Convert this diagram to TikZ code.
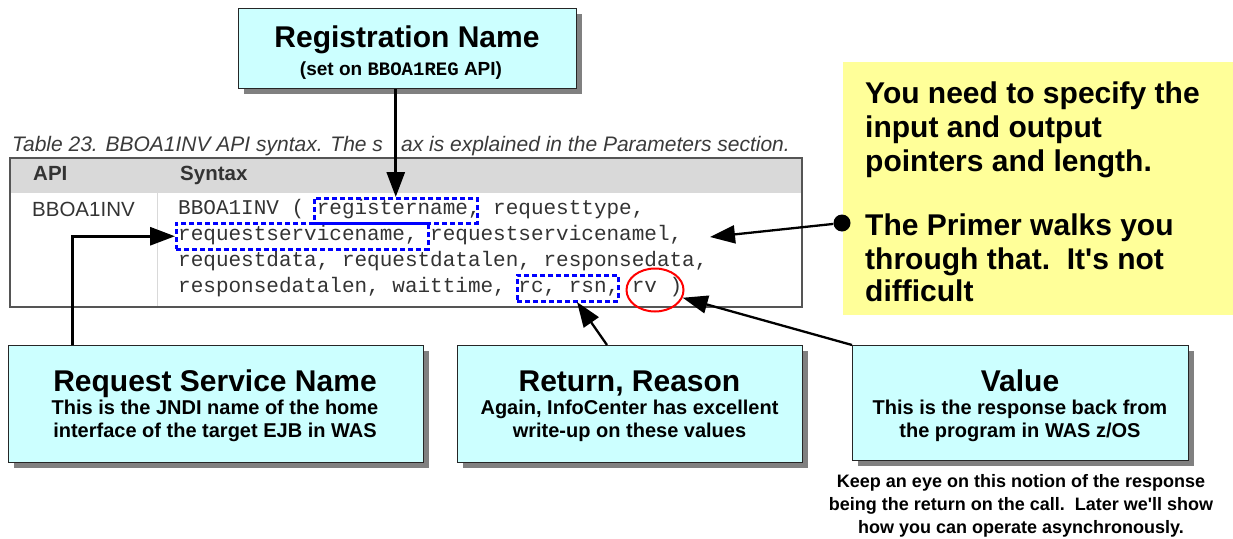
\documentclass[tikz,border=0pt]{standalone}
\usepackage{fontspec}
\setmainfont{Liberation Sans}[Ligatures=TeXOff]
\newfontfamily\codefont{Liberation Mono}
\usetikzlibrary{arrows.meta,shapes.geometric,shadows}
\definecolor{calloutfill}{HTML}{CCFFFF}
\definecolor{notefill}{HTML}{FFFF99}
\definecolor{headerfill}{HTML}{D9D9D9}
\definecolor{tableline}{HTML}{555555}
\definecolor{captiongray}{HTML}{3A3A3A}
\definecolor{codegray}{HTML}{333333}
\definecolor{hlblue}{HTML}{0000FF}
\definecolor{rvred}{HTML}{FF0000}
\begin{document}
\begin{tikzpicture}[x=1pt,y=-1pt,
  callout/.style={draw=black!85, line width=1.3pt, fill=calloutfill, inner sep=0pt,
    anchor=north west,
    drop shadow={shadow xshift=5pt, shadow yshift=-5pt, fill=black!50, opacity=1}},
  titletext/.style={anchor=base, inner sep=0pt, font=\bfseries\fontsize{30}{34}\selectfont},
  subtext/.style={anchor=base, inner sep=0pt, font=\bfseries\fontsize{20}{24}\selectfont},
  notetext/.style={anchor=base west, inner sep=0pt, font=\bfseries\fontsize{30}{34}\selectfont},
  smallnote/.style={anchor=base, inner sep=0pt, font=\bfseries\fontsize{18}{22}\selectfont},
  captiontext/.style={inner sep=0pt, text=captiongray,
    font=\itshape\fontsize{21}{24}\selectfont},
  codeline/.style={anchor=base west, inner sep=0pt, text=codegray,
    font=\codefont\fontsize{21}{26}\selectfont},
  hlbox/.style={draw=hlblue, line width=2.5pt, dash pattern=on 5pt off 3pt,
    anchor=north west, inner sep=0pt},
  pointer/.style={line width=3pt, -{Triangle[length=25pt,width=18pt]}},
  thinpointer/.style={line width=2.3pt, -{Triangle[length=25pt,width=18pt]}},
  dotnode/.style={circle, fill=black, inner sep=0pt, minimum size=17pt}
]
\useasboundingbox (0,0) rectangle (1233,538);

% ---- yellow note panel ----
\node[fill=notefill, inner sep=0pt, anchor=north west, minimum width=390pt,
      minimum height=253pt] (note) at (843,62) {};
\node[notetext] (n1) at (865,103) {You need to specify the};
\node[notetext] (n2) at (865,137) {input and output};
\node[notetext] (n3) at (865,171) {pointers and length.};
\node[notetext] (n4) at (865,235) {The Primer walks you};
\node[notetext] (n5) at (865,269) {through that.\ \ It's not};
\node[notetext] (n6) at (865,301) {difficult};

% ---- table caption (interrupted by the registration pointer) ----
\node[captiontext, anchor=base west] (captionA) at (12,151)
  {Table 23. BBOA1INV API syntax. The s};
\node[captiontext, anchor=base east] (captionB) at (790,151)
  {ax is explained in the Parameters section.};

% ---- syntax table ----
\fill[headerfill] (10,158) rectangle (802,193);
\draw[black!15, line width=1pt] (157,193) -- (157,306);
\draw[tableline, line width=1.6pt] (10,158) rectangle (802,307);
\node[anchor=base west, inner sep=0pt, text=codegray,
      font=\bfseries\fontsize{20.5}{24}\selectfont] (hapi) at (33,180) {API};
\node[anchor=base west, inner sep=0pt, text=codegray,
      font=\bfseries\fontsize{20.5}{24}\selectfont] (hsyn) at (180,180) {Syntax};
\node[anchor=base west, inner sep=0pt, text=codegray,
      font=\fontsize{20.5}{24}\selectfont] (apiname) at (32,216) {BBOA1INV};

\node[codeline] (c1) at (178,214) {BBOA1INV ( registername, requesttype,};
\node[codeline] (c2) at (178,240) {requestservicename, requestservicenamel,};
\node[codeline] (c3) at (178,266) {requestdata, requestdatalen, responsedata,};
\node[codeline] (c4) at (178,292) {responsedatalen, waittime, rc, rsn, rv )};

% highlighted parameters
\node[hlbox, minimum width=163pt, minimum height=25pt] (regname) at (313,197) {};
\node[hlbox, minimum width=252pt, minimum height=26pt] (reqname) at (175,222) {};
\node[hlbox, minimum width=101pt, minimum height=26pt] (rcrsn) at (516,274) {};
\node[ellipse, draw=rvred, line width=2pt, inner sep=0pt,
      minimum width=57pt, minimum height=43pt] (rv) at (655,290) {};

% ---- callout boxes ----
\node[callout, minimum width=338pt, minimum height=80pt] (regbox) at (238,8) {};
\node[titletext] (regT) at (407,47) {Registration Name};
\node[subtext, font=\bfseries\fontsize{19}{23}\selectfont] (regS) at (401,75)
  {(set on {\codefont\bfseries BBOA1REG} API)};

\node[callout, minimum width=415pt, minimum height=117pt] (reqbox) at (8,345) {};
\node[titletext] (reqT) at (215,391) {Request Service Name};
\node[subtext] (reqS1) at (215,414) {This is the JNDI name of the home};
\node[subtext] (reqS2) at (215,437) {interface of the target EJB in WAS};

\node[callout, minimum width=345pt, minimum height=117pt] (retbox) at (457,345) {};
\node[titletext] (retT) at (629.5,391) {Return, Reason};
\node[subtext] (retS1) at (629.5,414) {Again, InfoCenter has excellent};
\node[subtext] (retS2) at (629.5,437) {write-up on these values};

\node[callout, minimum width=336pt, minimum height=115pt] (valbox) at (852,345) {};
\node[titletext] (valT) at (1020,391) {Value};
\node[subtext] (valS1) at (1020,414) {This is the response back from};
\node[subtext] (valS2) at (1020,437) {the program in WAS z/OS};

\node[smallnote] (k1) at (1021,487) {Keep an eye on this notion of the response};
\node[smallnote] (k2) at (1021,510) {being the return on the call.\ \ Later we'll show};
\node[smallnote] (k3) at (1021,533) {how you can operate asynchronously.};

% ---- connectors ----
\draw[pointer] (regbox.south -| regname.north) -- (regname.north);
\draw[pointer] ([xshift=64pt]reqbox.north west) |- (reqname.west);
\node[dotnode] (dot) at (842,223) {};
\coordinate (lentip) at (710,237);
\draw[thinpointer] (dot) -- (lentip);
\coordinate (rsntip) at (577,302);
\draw[thinpointer] ([xshift=150pt]retbox.north west) -- (rsntip);
\draw[thinpointer] (valbox.north west) -- (rv);
\end{tikzpicture}
\end{document}
